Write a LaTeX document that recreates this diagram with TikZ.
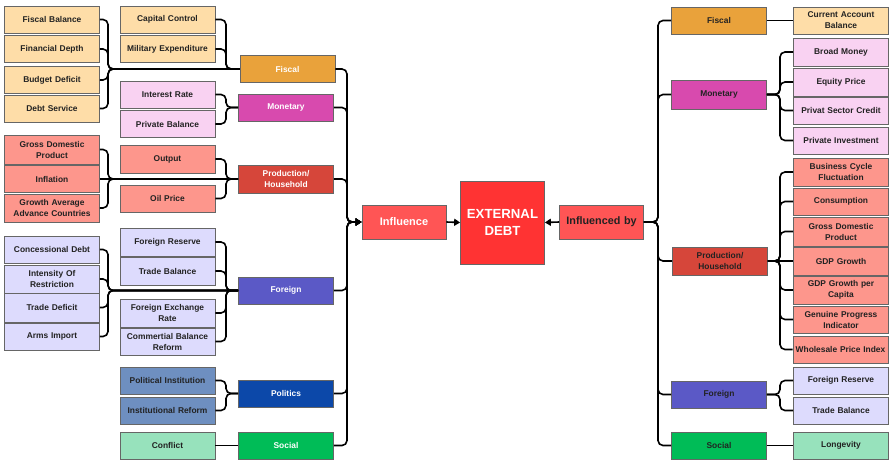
\documentclass[tikz,border=0pt]{standalone}
\usepackage{fontspec}
\setmainfont{Liberation Sans}
\usetikzlibrary{arrows.meta}
\definecolor{fiscC}{HTML}{E9A23B}
\definecolor{fiscL}{HTML}{FEDDA8}
\definecolor{monC}{HTML}{D84AAE}
\definecolor{monL}{HTML}{F9D2F2}
\definecolor{proC}{HTML}{D6463A}
\definecolor{proL}{HTML}{FD968C}
\definecolor{forC}{HTML}{5B59C6}
\definecolor{forL}{HTML}{DDDBFD}
\definecolor{polC}{HTML}{0C48A9}
\definecolor{polL}{HTML}{6E8FC0}
\definecolor{socC}{HTML}{00BC57}
\definecolor{socL}{HTML}{97E2BC}
\definecolor{inflC}{HTML}{FF5555}
\definecolor{extC}{HTML}{FF3333}
\definecolor{txtdark}{HTML}{222222}
\begin{document}
\begin{tikzpicture}[x=1pt,y=-1pt,
  box/.style={draw=black!60, line width=0.7pt, minimum width=94pt, minimum height=27pt,
    inner xsep=1pt, inner ysep=1pt, align=center, text width=93pt,
    font=\fontsize{8.4}{11}\selectfont\bfseries, text=txtdark},
  catL/.style={box, text=white},
  catR/.style={box, text=txtdark},
  conn/.style={line width=1.6pt, rounded corners=5pt, black},
  arr/.style={conn, -{Triangle[length=6pt,width=7pt]}}
]
\useasboundingbox (0,0) rectangle (889,460);

% ---------------- left leaves, column 1
\node[box, fill=fiscL] (fb) at (52,19.5) {Fiscal Balance};
\node[box, fill=fiscL] (fd) at (52,49) {Financial Depth};
\node[box, fill=fiscL] (bd) at (52,80) {Budget Deficit};
\node[box, fill=fiscL] (dsv) at (52,108.5) {Debt Service};
\node[box, fill=proL, minimum height=29pt] (gdpL) at (52,149.5) {Gross Domestic\\Product};
\node[box, fill=proL] (inf) at (52,179) {Inflation};
\node[box, fill=proL, minimum height=28pt] (gaac) at (52,208) {Growth Average\\Advance Countries};
\node[box, fill=forL] (cd) at (52,249.5) {Concessional Debt};
\node[box, fill=forL, minimum height=28pt] (ior) at (52,279) {Intensity Of\\Restriction};
\node[box, fill=forL, minimum height=29pt] (td) at (52,307.5) {Trade Deficit};
\node[box, fill=forL] (ai) at (52,336.5) {Arms Import};

% ---------------- left leaves, column 2
\node[box, fill=fiscL, minimum width=93pt] (cc) at (167.5,19.5) {Capital Control};
\node[box, fill=fiscL, minimum width=93pt] (me) at (167.5,49) {Military Expenditure};
\node[box, fill=monL, minimum width=93pt] (ir) at (167.5,94.5) {Interest Rate};
\node[box, fill=monL, minimum width=93pt] (pb) at (167.5,124) {Private Balance};
\node[box, fill=proL, minimum width=93pt, minimum height=28pt] (out) at (167.5,159) {Output};
\node[box, fill=proL, minimum width=93pt] (oil) at (167.5,198.5) {Oil Price};
\node[box, fill=forL, minimum width=93pt, minimum height=28pt] (frL) at (167.5,242) {Foreign Reserve};
\node[box, fill=forL, minimum width=93pt, minimum height=28pt] (tbL) at (167.5,271) {Trade Balance};
\node[box, fill=forL, minimum width=93pt, minimum height=28pt] (fer) at (167.5,313) {Foreign Exchange\\Rate};
\node[box, fill=forL, minimum width=93pt] (cbr) at (167.5,341.5) {Commertial Balance\\Reform};
\node[box, fill=polL, minimum width=93pt] (pi) at (167.5,380.5) {Political Institution};
\node[box, fill=polL, minimum width=93pt] (inr) at (167.5,410.5) {Institutional Reform};
\node[box, fill=socL, minimum width=93pt] (con) at (167.5,445.5) {Conflict};

% ---------------- left categories
\node[catL, fill=fiscC, minimum width=93pt] (fisL) at (287.5,69) {Fiscal};
\node[catL, fill=monC] (monL) at (286,107.5) {Monetary};
\node[catL, fill=proC, minimum height=28pt] (proLc) at (286,179) {Production/\\Household};
\node[catL, fill=forC] (forLc) at (286,290.5) {Foreign};
\node[catL, fill=polC] (polLc) at (286,393.5) {Politics};
\node[catL, fill=socC] (socLc) at (286,445.5) {Social};

% ---------------- centre
\node[box, fill=inflC, text=white, minimum width=84pt, minimum height=34pt, text width=80pt,
  font=\fontsize{11}{13}\selectfont\bfseries] (infl) at (404,222) {Influence};
\node[box, fill=extC, text=white, minimum width=83pt, minimum height=83pt, text width=82pt,
  font=\fontsize{13.2}{17}\selectfont\bfseries] (ext) at (502.5,222.5) {EXTERNAL\\DEBT};
\node[box, fill=inflC, text=txtdark, minimum width=83pt, minimum height=34pt, text width=82pt,
  font=\fontsize{10.8}{13}\selectfont\bfseries] (ib) at (601.5,222) {Influenced by};

% ---------------- right categories
\node[catR, fill=fiscC] (fisR) at (719,20.5) {Fiscal};
\node[catR, fill=monC, minimum height=29pt] (monR) at (719,94.5) {Monetary};
\node[catR, fill=proC, minimum height=28pt] (proR) at (720,261) {Production/\\Household};
\node[catR, fill=forC] (forR) at (719,394.5) {Foreign};
\node[catR, fill=socC] (socR) at (719,445.5) {Social};

% ---------------- right leaves
\node[box, fill=fiscL] (cab) at (841,20.5) {Current Account\\Balance};
\node[box, fill=monL, minimum height=28pt] (bm) at (841,52) {Broad Money};
\node[box, fill=monL, minimum height=28pt] (ep) at (841,82) {Equity Price};
\node[box, fill=monL] (psc) at (841,110.5) {Privat Sector Credit};
\node[box, fill=monL] (piv) at (841,140.5) {Private Investment};
\node[box, fill=proL, minimum height=28pt] (bcf) at (841,172) {Business Cycle\\Fluctuation};
\node[box, fill=proL] (cons) at (841,201.5) {Consumption};
\node[box, fill=proL, minimum height=29pt] (gdpR) at (841,231.5) {Gross Domestic\\Product};
\node[box, fill=proL, minimum height=28pt] (gg) at (841,261) {GDP Growth};
\node[box, fill=proL, minimum height=28pt] (ggpc) at (841,290) {GDP Growth per\\Capita};
\node[box, fill=proL] (gpi) at (841,319.5) {Genuine Progress\\Indicator};
\node[box, fill=proL, minimum width=95pt, inner xsep=0pt, text width=95pt] (wpi) at (840.5,349.5) {Wholesale Price Index};
\node[box, fill=forL] (frR) at (841,380.5) {Foreign Reserve};
\node[box, fill=forL] (tbR) at (841,410.5) {Trade Balance};
\node[box, fill=socL] (lon) at (841,445.5) {Longevity};

% ---------------- bracket columns
\coordinate (bA) at (108,0);
\coordinate (bB) at (226,0);
\coordinate (bR) at (780,0);
\coordinate (tL) at (347,222);
\coordinate (tR) at (658,222);

% left connectors
\foreach \n in {fb,fd,bd,dsv} \draw[conn] (\n.east) -| (bA |- fisL.west) -- (fisL.west);
\foreach \n in {cc,me} \draw[conn] (\n.east) -| (bB |- fisL.west) -- (fisL.west);
\foreach \n in {ir,pb} \draw[conn] (\n.east) -| (bB |- monL.west) -- (monL.west);
\foreach \n in {gdpL,gaac} \draw[conn] (\n.east) -| (bA |- proLc.west) -- (proLc.west);
\draw[conn] (inf.east) -- (proLc.west);
\foreach \n in {out,oil} \draw[conn] (\n.east) -| (bB |- proLc.west) -- (proLc.west);
\foreach \n in {cd,ior,td,ai} \draw[conn] (\n.east) -| (bA |- forLc.west) -- (forLc.west);
\foreach \n in {frL,tbL,fer,cbr} \draw[conn] (\n.east) -| (bB |- forLc.west) -- (forLc.west);
\foreach \n in {pi,inr} \draw[conn] (\n.east) -| (bB |- polLc.west) -- (polLc.west);
\draw[conn] (con.east) -- (socLc.west);

% left trunk
\foreach \n in {fisL,monL,proLc,forLc,polLc,socLc} \draw[arr] (\n.east) -| (tL) -- (infl.west);

% centre arrows
\draw[arr] (infl.east) -- (ext.west);
\draw[arr] (ib.west) -- (ext.east);

% right trunk
\foreach \n in {fisR,monR,proR,forR,socR} \draw[conn] (ib.east) -- (tR) |- (\n.west);

% right leaves
\draw[conn] (fisR.east) -- (cab.west);
\foreach \n in {bm,ep,psc,piv} \draw[conn] (monR.east) -- (bR |- monR.east) |- (\n.west);
\foreach \n in {bcf,cons,gdpR,ggpc,gpi,wpi} \draw[conn] (proR.east) -- (bR |- proR.east) |- (\n.west);
\draw[conn] (proR.east) -- (gg.west);
\foreach \n in {frR,tbR} \draw[conn] (forR.east) -- (bR |- forR.east) |- (\n.west);
\draw[conn] (socR.east) -- (lon.west);

\end{tikzpicture}
\end{document}
